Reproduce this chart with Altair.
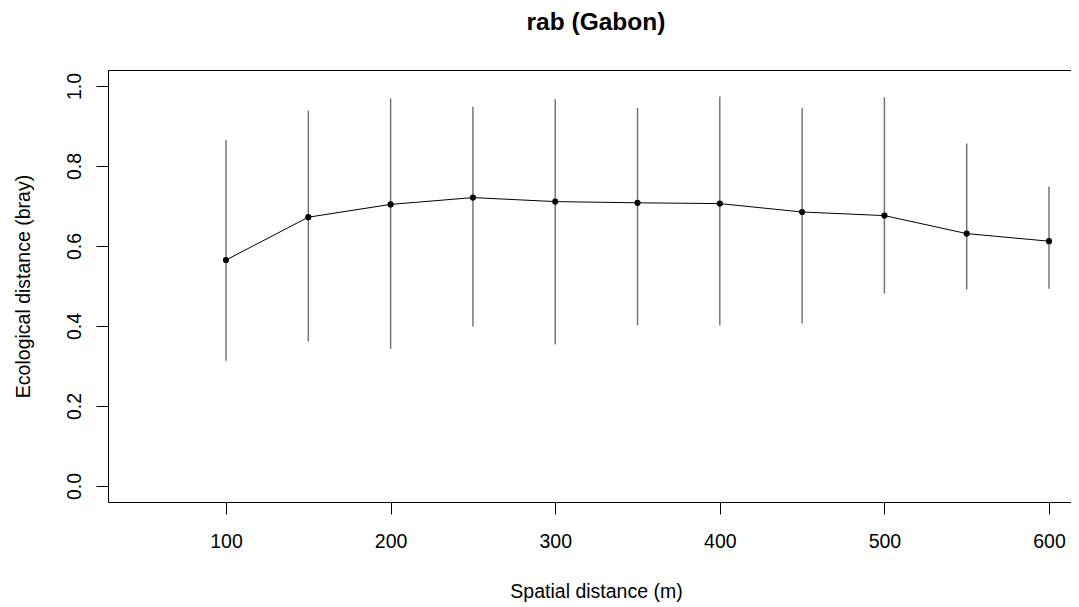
import altair as alt
import pandas as pd

# Data
dist = [100, 150, 200, 250, 300, 350, 400, 450, 500, 550, 600]
mean_val = [0.565, 0.672, 0.704, 0.721, 0.711, 0.708, 0.706, 0.685, 0.676, 0.631, 0.612]
upper_val = [0.865, 0.938, 0.969, 0.948, 0.967, 0.945, 0.974, 0.945, 0.972, 0.856, 0.749]
lower_val = [0.313, 0.361, 0.343, 0.398, 0.354, 0.402, 0.402, 0.406, 0.481, 0.491, 0.493]
x_ticks = [100, 200, 300, 400, 500, 600]
y_ticks = [0.0, 0.2, 0.4, 0.6, 0.8, 1.0]
title_text = "rab (Gabon)"
x_title = "Spatial distance (m)"
y_title = "Ecological distance (bray)"

df = pd.DataFrame({"dist": dist, "mean": mean_val, "upper": upper_val, "lower": lower_val})
one = pd.DataFrame({"a": [0]})

W = 963
H = 432
FONT = "Liberation Sans"
FS = 19.5

xscale = alt.Scale(domain=[28.3, 28.3 + W / 1.646], nice=False, zero=False)
yscale = alt.Scale(domain=[-0.04, 1.04], nice=False, zero=False)

xaxis = alt.Axis(
    values=x_ticks, format="d", title=x_title, grid=False,
    domainColor="black", domainWidth=1, tickColor="black", tickWidth=1, tickSize=12,
    labelColor="black", labelFont=FONT, labelFontSize=FS, labelBaseline="alphabetic",
    labelPadding=33, labelFlush=False, labelOverlap=False,
    titleFont=FONT, titleFontSize=FS, titleFontWeight="normal", titleColor="black",
    titleBaseline="alphabetic", titleAlign="center", titleX=488, titleY=95,
)
yaxis = alt.Axis(
    values=y_ticks, format=".1f", title=y_title, grid=False,
    domainColor="black", domainWidth=1, tickColor="black", tickWidth=1, tickSize=12,
    labelColor="black", labelFont=FONT, labelFontSize=FS, labelAngle=270,
    labelAlign="center", labelBaseline="alphabetic", labelPadding=16,
    labelFlush=False, labelOverlap=False,
    titleFont=FONT, titleFontSize=FS, titleFontWeight="normal", titleColor="black",
    titleAngle=270, titleBaseline="alphabetic", titleAlign="center", titleX=-79, titleY=H / 2,
)

base = alt.Chart(df)

bars = base.mark_rule(color="#6e6e6e", strokeWidth=1.4).encode(
    x=alt.X("dist:Q", scale=xscale, axis=xaxis),
    y=alt.Y("lower:Q", scale=yscale, axis=yaxis),
    y2="upper:Q",
)
line = base.mark_line(color="black", strokeWidth=1).encode(
    x=alt.X("dist:Q", scale=xscale),
    y=alt.Y("mean:Q", scale=yscale),
)
pts = base.mark_circle(color="black", size=38, opacity=1).encode(
    x=alt.X("dist:Q", scale=xscale),
    y=alt.Y("mean:Q", scale=yscale),
)
top_border = alt.Chart(one).mark_rule(color="black", strokeWidth=1).encode(
    x=alt.value(0), x2=alt.value(W), y=alt.value(0.5)
)
title = alt.Chart(one).mark_text(
    text=title_text, font=FONT, fontSize=24.5, fontWeight="bold", color="black",
    align="center", baseline="alphabetic",
).encode(x=alt.value(488), y=alt.value(-40))

chart = alt.layer(bars, line, pts, top_border, title).properties(
    width=W, height=H,
    padding={"left": 100, "top": 62, "right": 0, "bottom": 100},
    autosize=alt.AutoSizeParams(type="none"),
).configure_view(strokeWidth=0)

chart.save("out.html", embed_options={"renderer": "svg", "actions": False})
